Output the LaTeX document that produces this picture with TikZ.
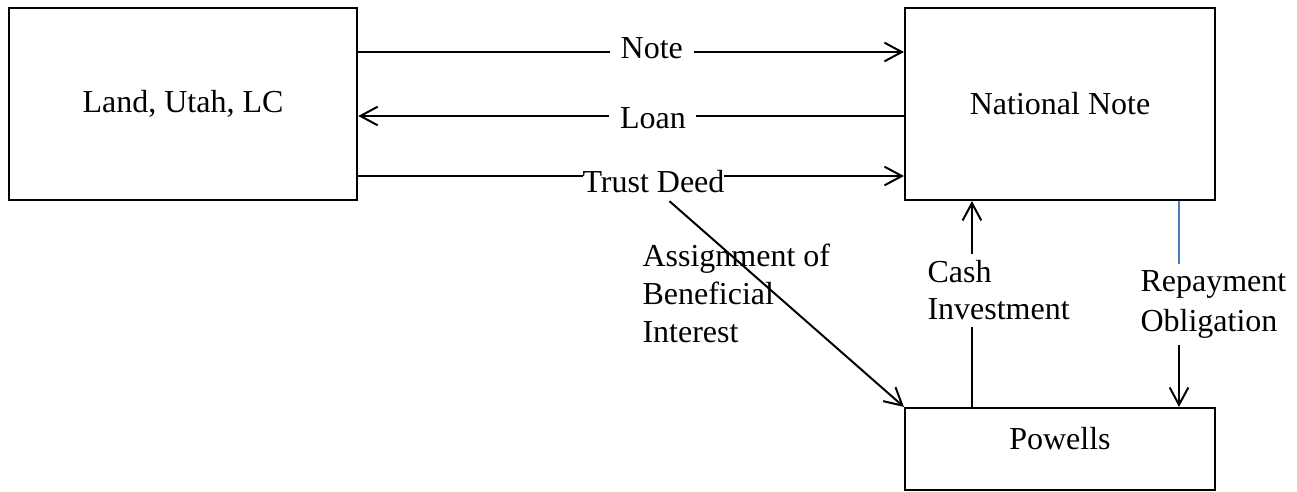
\documentclass[tikz,border=0pt]{standalone}
\usepackage{fontspec}
\setmainfont{Liberation Serif}
\usetikzlibrary{arrows.meta,positioning}
\definecolor{wordblue}{RGB}{74,126,187}
\tikzstyle{party}=[draw,rectangle,line width=0.75pt,inner sep=0pt,font=\fontsize{12}{14}\selectfont]
\tikzstyle{flow} = [draw,line width=0.75pt,-{Straight Barb[length=6.5pt,width=7pt]}]
\tikzstyle{tag} = [fill=white,inner ysep=0pt,inner xsep=4pt,font=\fontsize{12}{14}\selectfont]
\tikzstyle{side tag} = [inner sep=0pt,outer ysep=2.5pt,align=left,anchor=north west,font=\fontsize{12}{14}\selectfont]

\begin{document}
\begin{tikzpicture}[x=0.375pt,y=-0.375pt]
    \useasboundingbox (0,0) rectangle (1297,491);
    % First we draw the three parties
    \node[party,minimum width=130.7pt,minimum height=72.2pt] (land) at (183,104) {Land, Utah, LC};
    \node[party,minimum width=116.3pt,minimum height=72pt] (national) at (1060,104) {National Note};
    \node[party,minimum width=116.3pt,minimum height=30.8pt,text depth=8pt] (powells) at (1060,449) {Powells};

    % Flows between land and national
    \path[flow] ([yshift=19.5pt]land.east) -- node[tag,pos=0.538,yshift=1.5pt] (note) {Note} ([yshift=19.5pt]national.west);
    \path[flow] ([yshift=-4.5pt]national.west) -- node[tag,pos=0.46,yshift=-0.75pt] (loan) {Loan} ([yshift=-4.5pt]land.east);
    \path[flow] ([yshift=-27pt]land.east) -- node[tag,inner xsep=0pt,pos=0.541,yshift=-2.25pt] (deed) {Trust Deed} ([yshift=-27pt]national.west);

    % Assignment down to powells
    \path[flow] ([xshift=6pt,yshift=-2.6pt]deed.south) -- (powells.north west);
    \node[side tag,font=\fontsize{12}{14.25}\selectfont] (assign) at (642,237) {Assignment of\\Beneficial\\Interest};

    % Cash investment up, repayment down
    \node[side tag,font=\fontsize{12}{13.75}\selectfont] (cash) at (927,254) {Cash\\Investment};
    \coordinate (cashfoot) at ([xshift=25.5pt]powells.north west);
    \draw[line width=0.75pt] (cashfoot) -- (cashfoot |- cash.south);
    \path[flow] (cashfoot |- cash.north) -- (cashfoot |- national.south);

    \node[side tag,font=\fontsize{12}{15}\selectfont] (repay) at (1140,264) {Repayment\\Obligation};
    \coordinate (repaytop) at ([xshift=-13.9pt]national.south east);
    \draw[wordblue,line width=0.75pt] (repaytop) -- (repaytop |- repay.north);
    \path[flow] (repaytop |- repay.south) -- (repaytop |- powells.north);
\end{tikzpicture}
\end{document}
